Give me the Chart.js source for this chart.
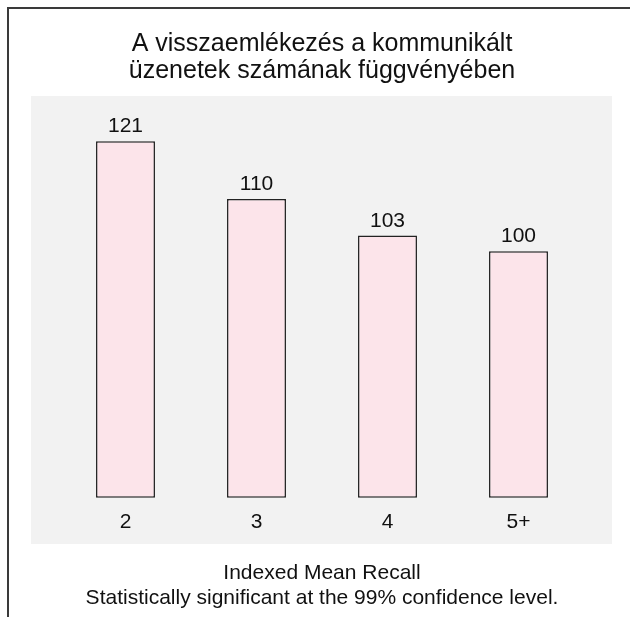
<!DOCTYPE html>
<html>
<head>
<meta charset="utf-8">
<script src="https://cdn.jsdelivr.net/npm/chart.js@4.4.0/dist/chart.umd.min.js"></script>
<style>
    html, body { margin: 0; padding: 0; background: #ffffff; }
    #wrap { width: 630px; height: 617px; position: relative; }
</style>
</head>
<body>
<div id="wrap"><canvas id="recallChart" width="630" height="617"></canvas></div>
<script>
// Chart data
const categories = ['2', '3', '4', '5+'];
const recallValues = [121, 110, 103, 100];
const titleLines = ['A visszaemlékezés a kommunikált', 'üzenetek számának függvényében'];
const footerLines = ['Indexed Mean Recall', 'Statistically significant at the 99% confidence level.'];

const FONT = '"Liberation Sans", Arial, Helvetica, sans-serif';
const Y_MIN = 53;   // bars start here, not at zero
const Y_MAX = 130;

// Frame lines and the grey panel behind the bars
const backdrop = {
    id: 'backdrop',
    beforeDraw(chart) {
        const ctx = chart.ctx;
        ctx.save();
        ctx.fillStyle = '#f2f2f2';
        ctx.fillRect(31, 96, 581, 448);
        ctx.strokeStyle = '#3a3a3a';
        ctx.lineWidth = 2;
        ctx.beginPath();
        ctx.moveTo(8, 617);
        ctx.lineTo(8, 8);
        ctx.lineTo(630, 8);
        ctx.stroke();
        ctx.restore();
    }
};

// Value labels on top of each bar
const valueLabels = {
    id: 'valueLabels',
    afterDatasetsDraw(chart) {
        const ctx = chart.ctx;
        const meta = chart.getDatasetMeta(0);
        ctx.save();
        ctx.font = '21px ' + FONT;
        ctx.fillStyle = '#111111';
        ctx.textAlign = 'center';
        ctx.textBaseline = 'alphabetic';
        meta.data.forEach((bar, i) => {
            ctx.fillText(String(recallValues[i]), bar.x, bar.y - 9);
        });
        ctx.restore();
    }
};

new Chart(document.getElementById('recallChart'), {
    type: 'bar',
    data: {
        labels: categories,
        datasets: [{
            data: recallValues,
            base: Y_MIN,
            backgroundColor: '#fce4ea',
            borderColor: '#222222',
            borderWidth: 1.5,
            borderSkipped: false,
            clip: false,
            categoryPercentage: 1,
            barPercentage: 0.45
        }]
    },
    options: {
        responsive: false,
        animation: false,
        layout: { padding: { left: 60, right: 46, top: 0, bottom: 0 } },
        plugins: {
            legend: { display: false },
            tooltip: { enabled: false },
            title: {
                display: true,
                text: titleLines,
                color: '#111111',
                font: { family: FONT, size: 25, weight: 'normal', lineHeight: 1.08 },
                padding: { top: 31, bottom: 9 }
            },
            subtitle: {
                display: true,
                position: 'bottom',
                text: footerLines,
                color: '#111111',
                font: { family: FONT, size: 21, weight: 'normal', lineHeight: 1.19 },
                padding: { top: 14, bottom: 6 }
            }
        },
        scales: {
            x: {
                grid: { display: false, drawTicks: false },
                border: { display: false },
                ticks: {
                    color: '#111111',
                    padding: 12,
                    font: { family: FONT, size: 21 }
                }
            },
            y: {
                display: false,
                min: Y_MIN,
                max: Y_MAX
            }
        }
    },
    plugins: [backdrop, valueLabels]
});
</script>
</body>
</html>
